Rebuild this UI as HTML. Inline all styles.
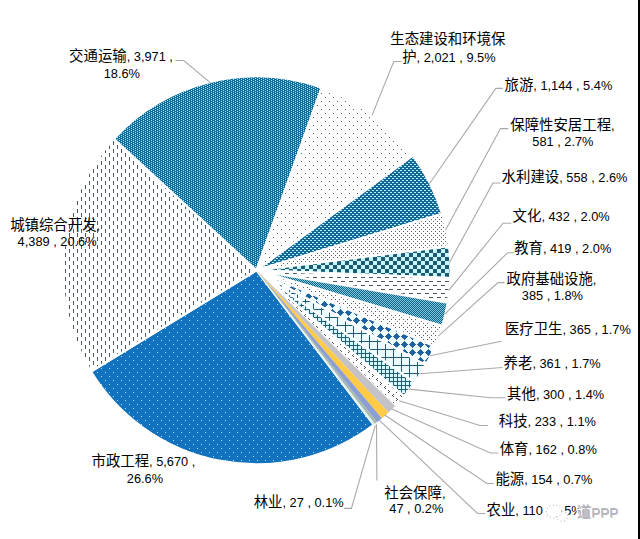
<!DOCTYPE html>
<html lang="zh"><head><meta charset="utf-8"><title>PPP项目行业分布</title>
<style>html,body{margin:0;padding:0;background:#fff;font-family:"Liberation Sans",sans-serif}svg{display:block}.lbl text{font-family:"Liberation Sans","Noto Sans CJK SC",sans-serif;font-size:12.8px}.lbl .c{font-size:14.4px}.wm text{font-family:"Liberation Sans","Noto Sans CJK SC",sans-serif;font-size:13.5px}.wm .c{font-size:14.4px}</style></head><body>
<svg width="640" height="539" viewBox="0 0 640 539">
<rect width="640" height="539" fill="#ffffff"/>
<defs><pattern id="p_75" x="1" y="5" width="4" height="2" patternUnits="userSpaceOnUse"><rect width="4" height="2" fill="#116c9b"/><rect x="0" y="0" width="1" height="1" fill="#9cecfd"/><rect x="2" y="1" width="1" height="1" fill="#9cecfd"/></pattern><pattern id="p_dashv" x="1" y="5" width="8" height="8" patternUnits="userSpaceOnUse"><rect width="8" height="8" fill="#ffffff"/><rect x="0" y="0" width="1" height="4" fill="#4c585f"/><rect x="4" y="4" width="1" height="4" fill="#4c585f"/></pattern><pattern id="p_dot5b" x="1" y="5" width="8" height="8" patternUnits="userSpaceOnUse"><rect width="8" height="8" fill="#1272bd"/><rect x="0" y="7" width="1" height="1" fill="#9fe9ff"/><rect x="4" y="3" width="1" height="1" fill="#9fe9ff"/></pattern><pattern id="p_dot5" x="1" y="5" width="8" height="8" patternUnits="userSpaceOnUse"><rect width="8" height="8" fill="#ffffff"/><rect x="0" y="0" width="1" height="1" fill="#5a5f63"/><rect x="4" y="4" width="1" height="1" fill="#5a5f63"/></pattern><pattern id="p_dashw" x="0" y="0" width="4" height="4" patternUnits="userSpaceOnUse"><rect width="4" height="4" fill="#136797"/><rect x="2" y="0" width="2" height="1" fill="#b4f3ff"/><rect x="0" y="2" width="2" height="1" fill="#b4f3ff"/></pattern><pattern id="p_dot20" x="0" y="0" width="4" height="4" patternUnits="userSpaceOnUse"><rect width="4" height="4" fill="#ffffff"/><rect x="1" y="1" width="1" height="1" fill="#5a5f63"/><rect x="3" y="3" width="1" height="1" fill="#5a5f63"/></pattern><pattern id="p_chk" x="1" y="1" width="8" height="8" patternUnits="userSpaceOnUse"><rect width="8" height="8" fill="#c6f8ff"/><rect x="4" y="0" width="4" height="4" fill="#1d5b73"/><rect x="0" y="4" width="4" height="4" fill="#1d5b73"/></pattern><pattern id="p_dashh" x="1" y="5" width="8" height="8" patternUnits="userSpaceOnUse"><rect width="8" height="8" fill="#ffffff"/><rect x="0" y="0" width="4" height="1" fill="#4c585f"/><rect x="4" y="4" width="4" height="1" fill="#4c585f"/></pattern><pattern id="p_50" x="0" y="0" width="2" height="2" patternUnits="userSpaceOnUse"><rect width="2" height="2" fill="#155f82"/><rect x="0" y="0" width="1" height="1" fill="#78cbe0"/><rect x="1" y="1" width="1" height="1" fill="#78cbe0"/></pattern><pattern id="p_dot25" x="0" y="0" width="8" height="8" patternUnits="userSpaceOnUse"><rect width="8" height="8" fill="#ffffff"/><rect x="3" y="7" width="1" height="1" fill="#5a5f63"/><rect x="7" y="7" width="1" height="1" fill="#5a5f63"/><rect x="5" y="1" width="1" height="1" fill="#5a5f63"/><rect x="3" y="3" width="1" height="1" fill="#5a5f63"/><rect x="7" y="3" width="1" height="1" fill="#5a5f63"/><rect x="1" y="5" width="1" height="1" fill="#5a5f63"/></pattern><pattern id="p_dmd" x="1" y="5" width="8" height="8" patternUnits="userSpaceOnUse"><rect width="8" height="8" fill="#eefcff"/><rect x="3" y="0" width="1" height="1" fill="#1e62a0"/><rect x="2" y="1" width="3" height="1" fill="#1e62a0"/><rect x="1" y="2" width="5" height="1" fill="#1e62a0"/><rect x="0" y="3" width="7" height="1" fill="#1e62a0"/><rect x="1" y="4" width="5" height="1" fill="#1e62a0"/><rect x="2" y="5" width="3" height="1" fill="#1e62a0"/><rect x="3" y="6" width="1" height="1" fill="#1e62a0"/></pattern><pattern id="p_lgrid" x="1" y="5" width="8" height="8" patternUnits="userSpaceOnUse"><rect width="8" height="8" fill="#eefcff"/><rect x="0" y="0" width="8" height="1" fill="#1f5d76"/><rect x="0" y="0" width="1" height="8" fill="#1f5d76"/></pattern><pattern id="p_sgrid" x="1" y="1" width="4" height="4" patternUnits="userSpaceOnUse"><rect width="4" height="4" fill="#d8f8ff"/><rect x="0" y="0" width="4" height="1" fill="#1f5d76"/><rect x="0" y="0" width="1" height="4" fill="#1f5d76"/></pattern><pattern id="p_ddmd" x="1" y="5" width="8" height="8" patternUnits="userSpaceOnUse"><rect width="8" height="8" fill="#ffffff"/><rect x="3" y="1" width="1" height="1" fill="#4a5054"/><rect x="4" y="2" width="1" height="1" fill="#4a5054"/><rect x="3" y="3" width="1" height="1" fill="#4a5054"/><rect x="0" y="5" width="1" height="1" fill="#4a5054"/><rect x="7" y="6" width="1" height="1" fill="#4a5054"/><rect x="0" y="7" width="1" height="1" fill="#4a5054"/></pattern></defs>
<g stroke="#ffffff" stroke-width="2.2" stroke-linejoin="round"><path stroke="none" d="M256.5 270.3L373.66 424.93A194.0 194.0 0 0 1 91.00 371.52Z" fill="url(#p_dot5b)"/><path fill="none" d="M256.5 270.3L373.66 424.93A194.0 194.0 0 0 1 91.00 371.52Z"/><path stroke="none" d="M256.5 270.3L91.00 371.52A194.0 194.0 0 0 1 113.77 138.91Z" fill="url(#p_dashv)"/><path fill="none" d="M256.5 270.3L91.00 371.52A194.0 194.0 0 0 1 113.77 138.91Z"/><path stroke="none" d="M256.5 270.3L113.77 138.91A194.0 194.0 0 0 1 321.75 87.60Z" fill="url(#p_75)"/><path fill="none" d="M256.5 270.3L113.77 138.91A194.0 194.0 0 0 1 321.75 87.60Z"/><path stroke="none" d="M256.5 270.3L321.75 87.60A194.0 194.0 0 0 1 412.98 155.63Z" fill="url(#p_dot5)"/><path fill="none" d="M256.5 270.3L321.75 87.60A194.0 194.0 0 0 1 412.98 155.63Z"/><path stroke="none" d="M256.5 270.3L412.98 155.63A194.0 194.0 0 0 1 442.10 213.82Z" fill="url(#p_dashw)"/><path fill="none" d="M256.5 270.3L412.98 155.63A194.0 194.0 0 0 1 442.10 213.82Z"/><path stroke="none" d="M256.5 270.3L442.10 213.82A194.0 194.0 0 0 1 449.00 246.26Z" fill="url(#p_dot20)"/><path fill="none" d="M256.5 270.3L442.10 213.82A194.0 194.0 0 0 1 449.00 246.26Z"/><path stroke="none" d="M256.5 270.3L449.00 246.26A194.0 194.0 0 0 1 450.34 278.08Z" fill="url(#p_chk)"/><path fill="none" d="M256.5 270.3L449.00 246.26A194.0 194.0 0 0 1 450.34 278.08Z"/><path stroke="none" d="M256.5 270.3L450.34 278.08A194.0 194.0 0 0 1 447.79 302.62Z" fill="url(#p_dashh)"/><path fill="none" d="M256.5 270.3L450.34 278.08A194.0 194.0 0 0 1 447.79 302.62Z"/><path stroke="none" d="M256.5 270.3L447.79 302.62A194.0 194.0 0 0 1 442.35 325.93Z" fill="url(#p_50)"/><path fill="none" d="M256.5 270.3L447.79 302.62A194.0 194.0 0 0 1 442.35 325.93Z"/><path stroke="none" d="M256.5 270.3L442.35 325.93A194.0 194.0 0 0 1 434.86 346.60Z" fill="url(#p_dot25)"/><path fill="none" d="M256.5 270.3L442.35 325.93A194.0 194.0 0 0 1 434.86 346.60Z"/><path stroke="none" d="M256.5 270.3L434.86 346.60A194.0 194.0 0 0 1 425.65 365.30Z" fill="url(#p_dmd)"/><path fill="none" d="M256.5 270.3L434.86 346.60A194.0 194.0 0 0 1 425.65 365.30Z"/><path stroke="none" d="M256.5 270.3L425.65 365.30A194.0 194.0 0 0 1 414.61 382.72Z" fill="url(#p_lgrid)"/><path fill="none" d="M256.5 270.3L425.65 365.30A194.0 194.0 0 0 1 414.61 382.72Z"/><path stroke="none" d="M256.5 270.3L414.61 382.72A194.0 194.0 0 0 1 404.07 396.24Z" fill="url(#p_sgrid)"/><path fill="none" d="M256.5 270.3L414.61 382.72A194.0 194.0 0 0 1 404.07 396.24Z"/><path stroke="none" d="M256.5 270.3L404.07 396.24A194.0 194.0 0 0 1 395.08 406.06Z" fill="url(#p_ddmd)"/><path fill="none" d="M256.5 270.3L404.07 396.24A194.0 194.0 0 0 1 395.08 406.06Z"/><path stroke="none" d="M256.5 270.3L395.08 406.06A194.0 194.0 0 0 1 388.45 412.52Z" fill="#c2c2c8"/><path stroke="none" d="M256.5 270.3L388.45 412.52A194.0 194.0 0 0 1 381.86 418.35Z" fill="#ffca45"/><path stroke="none" d="M256.5 270.3L381.86 418.35A194.0 194.0 0 0 1 377.00 422.34Z" fill="#8c9fd2"/><path stroke="none" d="M256.5 270.3L377.00 422.34A194.0 194.0 0 0 1 374.88 423.99Z" fill="#a9b9a6"/><path stroke="none" d="M256.5 270.3L374.88 423.99A194.0 194.0 0 0 1 373.66 424.93Z" fill="#d8f4f4"/></g>
<g stroke="#a9a9a9" stroke-width="1.1"><polyline fill="none" points="210.20,82.63 183.75,60.50 175.50,60.50"/><polyline fill="none" points="372.05,115.34 393.75,61.50 401.25,61.50"/><polyline fill="none" points="429.37,183.81 495.80,88.40 502.80,88.40"/><polyline fill="none" points="445.56,230.04 500.50,128.60 508.30,128.60"/><polyline fill="none" points="449.63,262.17 492.90,183.00 500.50,183.00"/><polyline fill="none" points="448.76,290.32 503.00,223.20 511.40,223.20"/><polyline fill="none" points="444.75,314.20 507.70,252.70 514.20,252.70"/><polyline fill="none" points="438.24,336.13 498.00,282.60 504.60,282.60"/><polyline fill="none" points="429.88,355.77 501.50,341.20"/><polyline fill="none" points="419.77,373.78 502.50,367.50"/><polyline fill="none" points="408.93,389.16 490.50,397.70 505.50,397.70"/><polyline fill="none" points="399.14,400.75 480.00,425.50 488.00,425.50"/><polyline fill="none" points="391.32,408.83 490.30,453.00 498.20,453.00"/><polyline fill="none" points="384.72,414.95 486.90,483.50 493.75,483.50"/><polyline fill="none" points="379.00,419.82 477.50,513.50 485.30,513.50"/><polyline fill="none" points="376.50,424.30 376.90,480.40"/><polyline fill="none" points="375.30,425.30 351.40,508.40 343.90,508.40"/></g>
<g class="lbl" fill="#000000" stroke="none"><text x="69.1" y="61.0"><tspan class="c">交通运输</tspan>, 3,971 ,</text><text x="103.7" y="77.85">18.6%</text><text x="390.3" y="44.0"><tspan class="c">生态建设和环境保</tspan></text><text x="402.2" y="61.5"><tspan class="c">护</tspan>, 2,021 , 9.5%</text><text x="504.5" y="89.65"><tspan class="c">旅游</tspan>, 1,144 , 5.4%</text><text x="510.3" y="129.65"><tspan class="c">保障性安居工程</tspan>,</text><text x="532.3" y="145.75">581 , 2.7%</text><text x="501.6" y="182.2"><tspan class="c">水利建设</tspan>, 558 , 2.6%</text><text x="512.6" y="220.7"><tspan class="c">文化</tspan>, 432 , 2.0%</text><text x="514.2" y="253.0"><tspan class="c">教育</tspan>, 419 , 2.0%</text><text x="506.5" y="284.3"><tspan class="c">政府基础设施</tspan>,</text><text x="521.8" y="299.85">385 , 1.8%</text><text x="504.9" y="334.3"><tspan class="c">医疗卫生</tspan>, 365 , 1.7%</text><text x="503.6" y="368.3"><tspan class="c">养老</tspan>, 361 , 1.7%</text><text x="507.1" y="398.5"><tspan class="c">其他</tspan>, 300 , 1.4%</text><text x="498.8" y="426.0"><tspan class="c">科技</tspan>, 233 , 1.1%</text><text x="499.7" y="454.4"><tspan class="c">体育</tspan>, 162 , 0.8%</text><text x="495.4" y="483.7"><tspan class="c">能源</tspan>, 154 , 0.7%</text><text x="486.5" y="514.8"><tspan class="c">农业</tspan>, 110 , 0.5%</text><text x="384.3" y="497.7"><tspan class="c">社会保障</tspan>,</text><text x="389.3" y="513.15">47 , 0.2%</text><text x="253.7" y="507.3"><tspan class="c">林业</tspan>, 27 , 0.1%</text><text x="91.5" y="466.2"><tspan class="c">市政工程</tspan>, 5,670 ,</text><text x="126.8" y="482.75">26.6%</text><text x="10.2" y="230.1"><tspan class="c">城镇综合开发</tspan>,</text><text x="17.6" y="245.55">4,389 , 20.6%</text></g>
<g fill="#ffffff"><ellipse cx="554" cy="511.5" rx="8.8" ry="7.6"/><ellipse cx="562" cy="516.5" rx="6.8" ry="5.8"/><path d="M548 517l-2.5 4.5 5-2.5z"/><path d="M566 520.5l2 3-4.5-1.5z"/></g><g fill="none" stroke="#6e6e6e" stroke-width="0.9" stroke-dasharray="0.9 2.6" stroke-opacity="0.75"><ellipse cx="554" cy="511.5" rx="7.6" ry="6.4"/><path d="M556.2 516.2a5.8 4.8 0 1 0 11.6 0.6a5.8 4.8 0 0 0 -6 -5.2"/></g>
<g class="wm" fill="#ffffff" stroke="#ffffff" stroke-width="2" stroke-linejoin="round"><text x="576.8" y="517.3"><tspan class="c">道</tspan>PPP</text></g>
<g class="wm" fill="#77777f" fill-opacity="0.55" transform="translate(0.5 0.5)"><text x="576.8" y="517.3"><tspan class="c">道</tspan>PPP</text></g>
<g class="wm" fill="#b4b4be"><text x="576.8" y="517.3"><tspan class="c">道</tspan>PPP</text></g>
<rect x="638" y="0" width="2" height="539" fill="#000000"/>
</svg></body></html>
